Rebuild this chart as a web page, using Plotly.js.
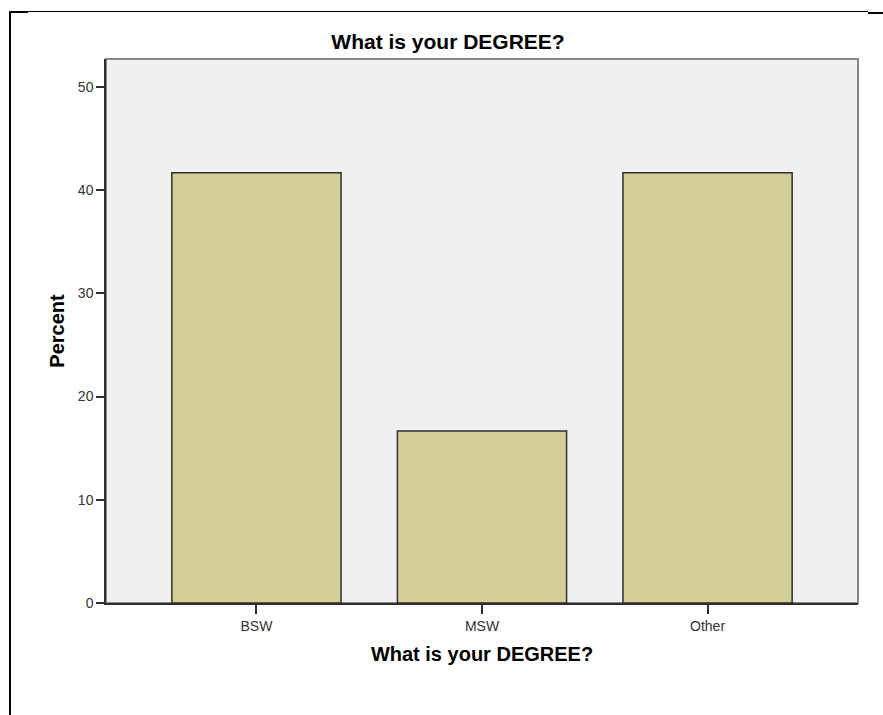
<!DOCTYPE html>
<html>
<head>
<meta charset="utf-8">
<script src="https://cdn.plot.ly/plotly-3.0.1.min.js"></script>
<style>
  html, body { margin: 0; padding: 0; background: #fff; }
  #wrap { position: relative; width: 883px; height: 715px; overflow: hidden; }
  #chart { position: absolute; left: 0; top: 0; width: 883px; height: 715px; }
  .ln { position: absolute; background: #000; pointer-events: none; }
</style>
</head>
<body>
<div id="wrap">
  <div id="chart"></div>
  <div class="ln" style="left:9px; top:11px; width:2px; height:704px;"></div>
  <div class="ln" style="left:9px; top:11px; width:859px; height:1px;"></div>
  <div class="ln" style="left:9px; top:11px; width:19px; height:2px;"></div>
  <div class="ln" style="left:868px; top:12px; width:15px; height:2px;"></div>
</div>
<script>
const categories = ["BSW", "MSW", "Other"];
const percentValues = [41.67, 16.67, 41.67];
const yTickValues = [0, 10, 20, 30, 40, 50];
const chartTitle = "What is your DEGREE?";
const xTitle = "What is your DEGREE?";
const yTitle = "Percent";

const FONT = "Arial, 'Liberation Sans', sans-serif";

const trace = {
  type: "bar",
  x: categories,
  y: percentValues,
  width: 0.75,
  marker: { color: "#D3CE97", line: { color: "#2e2e2e", width: 1.5 } },
  hoverinfo: "x+y"
};

const layout = {
  width: 883,
  height: 715,
  margin: { l: 106, r: 25, t: 59, b: 112, pad: 0 },
  paper_bgcolor: "#ffffff",
  plot_bgcolor: "#F0F0F0",
  showlegend: false,
  font: { family: FONT, size: 14, color: "#333333" },
  title: {
    text: chartTitle,
    font: { family: FONT, size: 21, color: "#000000", weight: "bold" },
    x: 448 / 883, xref: "container", xanchor: "center",
    y: 1 - 42 / 715, yref: "container", yanchor: "middle"
  },
  xaxis: {
    type: "category",
    range: [-0.667, 2.667],
    showgrid: false, zeroline: false,
    showline: true, linecolor: "#2e2e2e", linewidth: 1.5,
    ticks: "outside", ticklen: 9, tickwidth: 1.5, tickcolor: "#2e2e2e",
    tickfont: { family: FONT, size: 14, color: "#333333" },
    title: { text: xTitle, font: { family: FONT, size: 20, color: "#000000", weight: "bold" }, standoff: 14 },
    automargin: false, fixedrange: true
  },
  yaxis: {
    range: [0, 52.7],
    tickvals: yTickValues,
    ticktext: yTickValues.map(String),
    showgrid: false, zeroline: false,
    showline: true, linecolor: "#2e2e2e", linewidth: 1.5,
    ticks: "outside", ticklen: 8, tickwidth: 1.5, tickcolor: "#2e2e2e",
    tickfont: { family: FONT, size: 14, color: "#333333" },
    title: { text: yTitle, font: { family: FONT, size: 20, color: "#000000", weight: "bold" }, standoff: 8 },
    automargin: false, fixedrange: true
  },
  shapes: [
    { type: "rect", xref: "paper", yref: "paper", x0: 0, x1: 1, y0: 0, y1: 1,
      line: { color: "#888888", width: 2 }, layer: "below" }
  ],
  bargap: 0.25
};

Plotly.newPlot("chart", [trace], layout, { displayModeBar: false, staticPlot: false });
</script>
</body>
</html>
